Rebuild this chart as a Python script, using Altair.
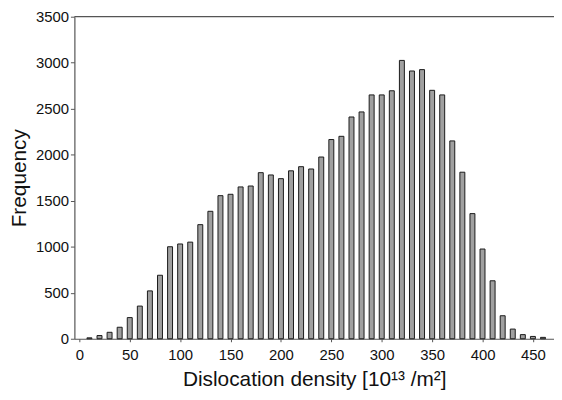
import altair as alt
import pandas as pd

# Bin positions (10^13 /m^2) and frequencies
density = [10, 20, 30, 40, 50, 60, 70, 80, 90, 100,
           110, 120, 130, 140, 150, 160, 170, 180, 190, 200,
           210, 220, 230, 240, 250, 260, 270, 280, 290, 300,
           310, 320, 330, 340, 350, 360, 370, 380, 390, 400,
           410, 420, 430, 440, 450, 460]
frequency = [10, 35, 70, 125, 230, 355, 520, 690, 1000, 1030,
             1050, 1240, 1385, 1555, 1570, 1650, 1660, 1805, 1780, 1740,
             1825, 1870, 1845, 1975, 2165, 2200, 2410, 2465, 2650, 2650,
             2695, 3025, 2910, 2925, 2700, 2650, 2150, 1810, 1360, 975,
             630, 250, 105, 45, 25, 15]

x_ticks = [0, 50, 100, 150, 200, 250, 300, 350, 400, 450]
y_ticks = [0, 500, 1000, 1500, 2000, 2500, 3000, 3500]
y_max = [3500]

df = pd.DataFrame({"density": density, "frequency": frequency})
top_df = pd.DataFrame({"top": y_max})

x_scale = alt.Scale(domain=[0, 466], nice=False, zero=False)
y_scale = alt.Scale(domain=[0, 3500], nice=False)

bars = alt.Chart(df).mark_bar(
    size=5, fill="#a0a0a0", stroke="#1a1a1a", strokeWidth=1
).encode(
    x=alt.X("density:Q", scale=x_scale,
            axis=alt.Axis(values=x_ticks, title="Dislocation density [10¹³ /m²]",
                          format="d", grid=False, tickSize=3, labelPadding=6,
                          titlePadding=6, labelFlush=False)),
    y=alt.Y("frequency:Q", scale=y_scale,
            axis=alt.Axis(values=y_ticks, title="Frequency", format="d", grid=False,
                          tickSize=4, labelPadding=2, titlePadding=6)),
)

top = alt.Chart(top_df).mark_rule(color="#555555", strokeWidth=1.2).encode(
    y=alt.Y("top:Q", scale=y_scale)
)

chart = alt.layer(bars, top).properties(
    width=484, height=325,
    autosize=alt.AutoSizeParams(type="none"),
    padding={"left": 67, "top": 7, "right": 0, "bottom": 57},
).configure_view(
    stroke=None
).configure_axis(
    domainColor="#555555", tickColor="#555555", domainWidth=1.2,
    labelFont="Liberation Sans", titleFont="Liberation Sans",
    labelFontSize=15, titleFontSize=21, titleFontWeight="normal",
    labelColor="#111111", titleColor="#111111",
)

chart.save("out.html", embed_options={"renderer": "svg", "actions": False})
